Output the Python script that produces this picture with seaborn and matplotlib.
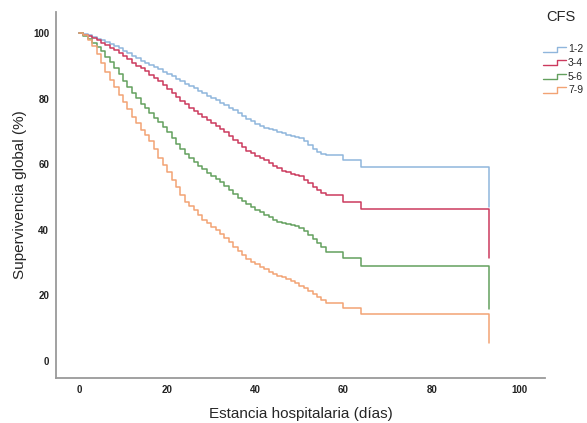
import numpy as np
import pandas as pd
import seaborn as sns
import matplotlib.pyplot as plt
from matplotlib.lines import Line2D
from matplotlib.legend_handler import HandlerBase

# Kaplan-Meier survival (%), one value per day, day 0..64
days = list(range(0, 65))
surv_12 = [100, 99.7, 99.3, 98.8, 98.3, 97.8, 97.2, 96.6, 96, 95.3,
           94.5, 93.8, 93, 92.3, 91.6, 90.9, 90.2, 89.6, 88.9, 88.2,
           87.6, 86.8, 86.1, 85.3, 84.6, 83.9, 83.1, 82.4, 81.6, 80.9,
           80.2, 79.5, 78.8, 78.1, 77.3, 76.5, 75.6, 74.8, 73.9, 73.1,
           72.2, 71.7, 71.2, 70.8, 70.3, 69.9, 69.4, 69.0, 68.6, 68.3,
           68.0, 67.0, 65.8, 64.7, 63.8, 63.2, 62.8, 62.8, 62.8, 62.8,
           61.3, 61.3, 61.3, 61.3, 59.1]
surv_34 = [100, 99.5, 99, 98.4, 97.8, 97.1, 96.3, 95.6, 94.8, 93.9,
           93, 92, 91, 90.1, 89.2, 88.3, 87.3, 86.3, 85.3, 84.2,
           83, 81.8, 80.6, 79.4, 78.3, 77.2, 76.2, 75.3, 74.4, 73.5,
           72.6, 71.7, 70.8, 69.7, 68.6, 67.5, 66.5, 65.2, 64, 63.3,
           62.6, 62, 61.4, 60.4, 59.5, 58.7, 58, 57.5, 57, 56.7,
           56.4, 55.3, 54.2, 53, 52, 51.3, 50.6, 50.6, 50.6, 50.6,
           48.5, 48.5, 48.5, 48.5, 46.3]
surv_56 = [100, 99.2, 98.2, 97, 95.8, 94.4, 92.8, 91.2, 89.5, 87.5,
           85.5, 83.6, 81.8, 80.1, 78.5, 77, 75.5, 74.2, 72.8, 71.3,
           69.8, 68, 66.2, 64.6, 63, 61.9, 60.8, 59.6, 58.5, 57.4,
           56.3, 55.4, 54.5, 53.4, 52.2, 51, 49.8, 48.8, 47.8, 46.9,
           46, 45.3, 44.6, 43.8, 43, 42.5, 42, 41.8, 41.6, 41.2,
           40.5, 39.6, 38.5, 37.2, 36, 34.7, 33.2, 33.2, 33.2, 33.2,
           31.4, 31.4, 31.4, 31.4, 29]
surv_79 = [100, 99.3, 98, 96, 93.5, 90.8, 88, 85.8, 83.5, 81.2,
           79, 76.7, 74.5, 72.5, 70.5, 68.8, 67, 64.5, 62, 59.8,
           57.5, 55.2, 53, 50.7, 48.5, 47.2, 46, 44.5, 43, 42,
           41, 39.9, 38.8, 37.5, 36.3, 34.9, 33.5, 32.3, 31.2, 30.3,
           29.5, 28.7, 28, 27.2, 26.5, 26, 25.5, 24.9, 24.3, 23.7,
           23, 22.2, 21.3, 20.4, 19.5, 18.6, 17.7, 17.7, 17.7, 17.7,
           16.2, 16.2, 16.2, 16.2, 14.3]
# last follow-up day and the drop drawn there
last_day = 93
end_drop = {"1-2": 47, "3-4": 31.4, "5-6": 15.9, "7-9": 5.5}

groups = ["1-2", "3-4", "5-6", "7-9"]
colors = ["#8fb6dc", "#cc3a5e", "#63a05e", "#f2a374"]

rows = []
for g, s in zip(groups, [surv_12, surv_34, surv_56, surv_79]):
    t = days + [last_day, last_day]
    v = s + [s[-1], end_drop[g]]
    rows.append(pd.DataFrame({"t": t, "s": v, "CFS": g}))
df = pd.concat(rows, ignore_index=True)


class StepHandler(HandlerBase):
    def create_artists(self, legend, orig_handle, xdescent, ydescent,
                       width, height, fontsize, trans):
        x0, x1 = -xdescent, -xdescent + width
        xm = x0 + 0.6 * width
        y0, y1 = -ydescent + 0.1 * height, -ydescent + 0.8 * height
        line = Line2D([x0, xm, xm, x1], [y0, y0, y1, y1],
                      color=orig_handle.get_color(), lw=1.0)
        line.set_transform(trans)
        return [line]


sns.set_style("white")
plt.rcParams["font.family"] = ["Liberation Sans", "DejaVu Sans"]

fig = plt.figure(figsize=(5.87, 4.23), dpi=100)
ax = fig.add_axes([0.0954, 0.1064, 0.833, 0.865])

sns.lineplot(data=df, x="t", y="s", hue="CFS", units="CFS", estimator=None,
             sort=False, palette=colors, hue_order=groups, drawstyle="steps-post",
             lw=1.1, legend=False, ax=ax)

ax.set_xlim(-5.2, 105.7)
ax.set_ylim(-5.2, 106.4)
ax.set_xticks([0, 20, 40, 60, 80, 100])
ax.set_yticks([0, 20, 40, 60, 80, 100])
ax.tick_params(length=0, labelsize=7, pad=5)
for lab in ax.get_xticklabels() + ax.get_yticklabels():
    lab.set_fontweight("bold")
    lab.set_color("#222222")
ax.set_xlabel("Estancia hospitalaria (días)", fontsize=11, labelpad=9)
ax.set_ylabel("Supervivencia global (%)", fontsize=11, labelpad=4)

for side in ["top", "right"]:
    ax.spines[side].set_visible(False)
for side in ["left", "bottom"]:
    ax.spines[side].set_color("#9a9a9a")
    ax.spines[side].set_linewidth(1.3)

fig.text(0.955, 0.96, "CFS", fontsize=10.5, ha="center", va="center")
handles = [Line2D([], [], color=c) for c in colors]
fig.legend(handles, groups, loc="upper left", bbox_to_anchor=(0.918, 0.905),
           frameon=False, fontsize=7.5, handlelength=2.2, handletextpad=0.2,
           labelspacing=0.35, borderaxespad=0.0,
           handler_map={Line2D: StepHandler()})

fig.savefig("out.png", dpi=100)
